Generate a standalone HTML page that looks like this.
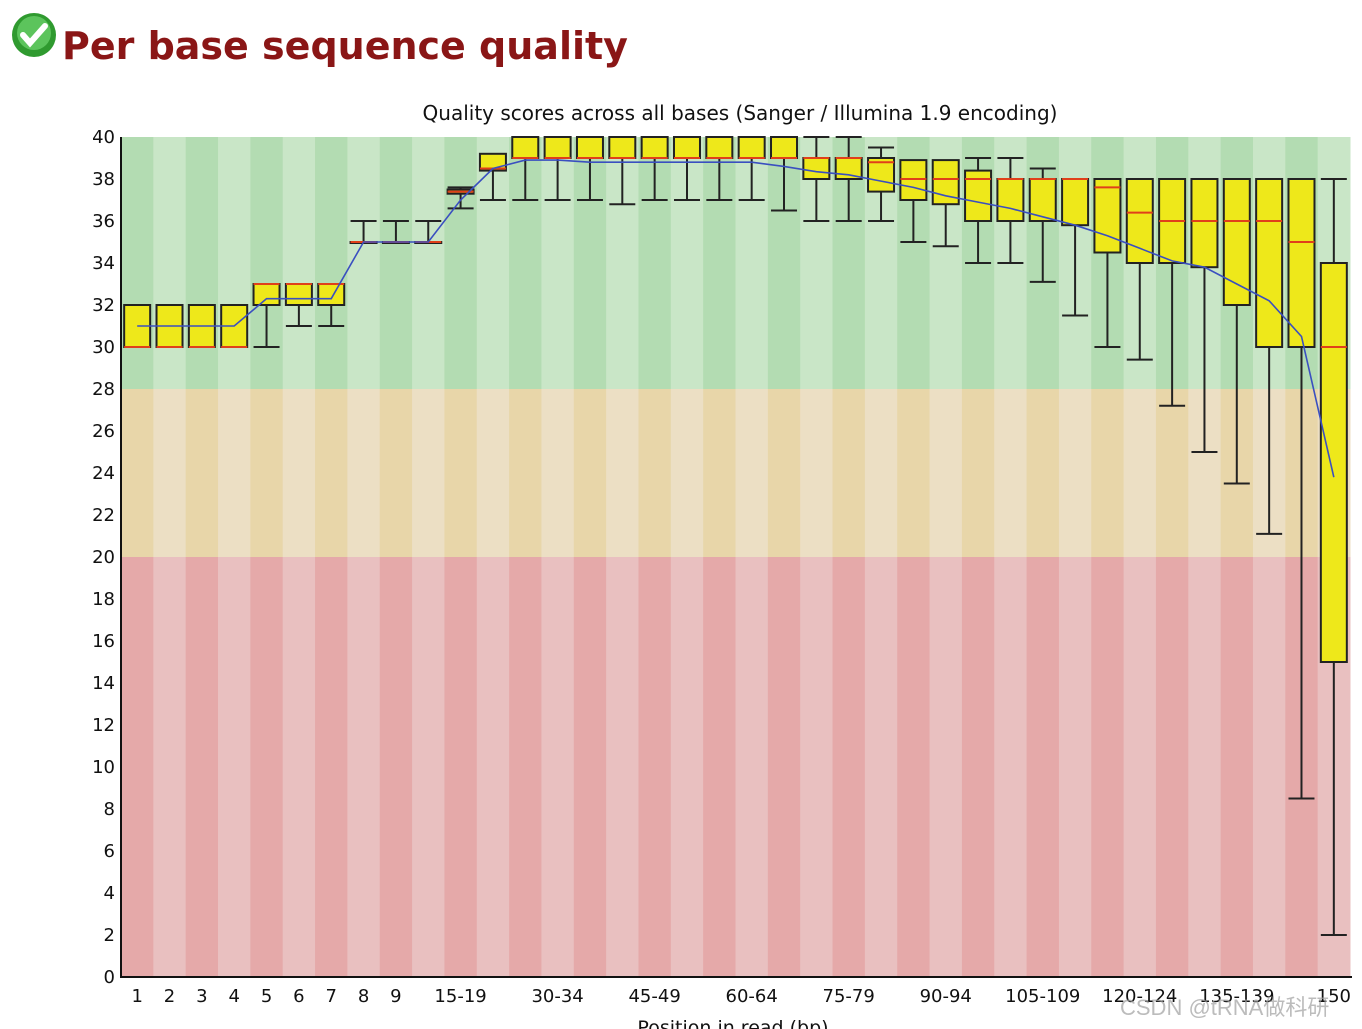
<!DOCTYPE html>
<html><head><meta charset="utf-8"><style>
body{margin:0;background:#fff;width:1362px;height:1029px;overflow:hidden;font-family:"Liberation Sans","DejaVu Sans",sans-serif;}
#title{position:absolute;left:62px;top:24px;font:bold 38px "DejaVu Sans","Liberation Sans",sans-serif;color:#8a1616;}
#icon{position:absolute;left:11px;top:12px}
#wm{position:absolute;left:1120px;top:990px;font:22px "Liberation Sans","Noto Sans CJK SC",sans-serif;color:rgba(160,160,160,0.7)}
</style></head><body>
<svg id="icon" width="48" height="48" viewBox="0 0 48 48"><circle cx="23" cy="23" r="22" fill="#2f9a2f"/><circle cx="23" cy="21" r="17" fill="#5cc45c"/><path d="M12 23 l7 8 l15 -17" stroke="#fff" stroke-width="6" fill="none" stroke-linecap="round"/></svg>
<div id="title">Per base sequence quality</div>
<svg id="chart" width="1362" height="1029" style="position:absolute;left:0;top:0"></svg>
<div id="wm">CSDN @tRNA做科研</div>
<script>
const categories=["1","2","3","4","5","6","7","8","9","10-14","15-19","20-24","25-29","30-34","35-39","40-44","45-49","50-54","55-59","60-64","65-69","70-74","75-79","80-84","85-89","90-94","95-99","100-104","105-109","110-114","115-119","120-124","125-129","130-134","135-139","140-144","145-149","150"];
const lowWhisker=[30,30,30,30,30,31,31,35,35,35,36.6,37,37,37,37,36.8,37,37,37,37,36.5,36,36,36,35,34.8,34,34,33.1,31.5,30,29.4,27.2,25,23.5,21.1,8.5,2];
const q1=[30,30,30,30,32,32,32,35,35,35,37.3,38.4,39,39,39,39,39,39,39,39,39,38,38,37.4,37,36.8,36,36,36,35.8,34.5,34,34,33.8,32,30,30,15];
const median=[30,30,30,30,33,33,33,35,35,35,37.4,38.5,39,39,39,39,39,39,39,39,39,39,39,38.8,38,38,38,38,38,38,37.6,36.4,36,36,36,36,35,30];
const q3=[32,32,32,32,33,33,33,35,35,35,37.5,39.2,40,40,40,40,40,40,40,40,40,39,39,39,38.9,38.9,38.4,38,38,38,38,38,38,38,38,38,38,34];
const highWhisker=[32,32,32,32,33,33,33,36,36,36,37.6,39.2,40,40,40,40,40,40,40,40,40,40,40,39.5,38.9,38.9,39,39,38.5,38,38,38,38,38,38,38,38,38];
const means=[31,31,31,31,32.3,32.3,32.3,35,35,35,37,38.5,38.9,38.9,38.8,38.8,38.8,38.8,38.8,38.8,38.6,38.35,38.2,37.9,37.6,37.2,36.9,36.6,36.2,35.8,35.3,34.7,34.1,33.8,33,32.2,30.5,23.8];
const yTicks=[0,2,4,6,8,10,12,14,16,18,20,22,24,26,28,30,32,34,36,38,40];
const xLabelIdx=[0,1,2,3,4,5,6,7,8,10,13,16,19,22,25,28,31,34,37];

const X0=121,X1=1350,Y0=977,Y1=137;
const n=categories.length, cw=(X1-X0)/n;
const y=v=>Y0-(v/40)*(Y0-Y1);
const xc=i=>X0+cw*(i+0.5);
const svg=document.getElementById('chart');
const NS='http://www.w3.org/2000/svg';
function mk(tag,attrs,parent){const e=document.createElementNS(NS,tag);for(const k in attrs)e.setAttribute(k,attrs[k]);(parent||svg).appendChild(e);return e;}

const bands=[[28,40,'#b3dcb2','#c9e6c7'],[20,28,'#e8d6a9','#ecdfc4'],[0,20,'#e5a9a9','#e9c0c0']];
const bg=mk('g',{});


for(const b of bands){for(let i=0;i<n;i++){
  const r=mk('rect',{x:X0+cw*i,y:y(b[1]),width:cw+0.5,height:y(b[0])-y(b[1]),fill:i%2==0?b[2]:b[3]},bg);
  
  
}}

const bw=26;
for(let i=0;i<n;i++){
  const g=mk('g',{});
  
  
  const cx=xc(i);
  mk('line',{x1:cx,x2:cx,y1:y(highWhisker[i]),y2:y(q3[i]),stroke:'#222','stroke-width':2},g);
  mk('line',{x1:cx,x2:cx,y1:y(q1[i]),y2:y(lowWhisker[i]),stroke:'#222','stroke-width':2},g);
  if(highWhisker[i]>q3[i]) mk('line',{x1:cx-bw/2,x2:cx+bw/2,y1:y(highWhisker[i]),y2:y(highWhisker[i]),stroke:'#222','stroke-width':2},g);
  if(lowWhisker[i]<q1[i]) mk('line',{x1:cx-bw/2,x2:cx+bw/2,y1:y(lowWhisker[i]),y2:y(lowWhisker[i]),stroke:'#222','stroke-width':2},g);
  mk('rect',{x:cx-bw/2,y:y(q3[i]),width:bw,height:Math.max(1,y(q1[i])-y(q3[i])),fill:'#eee81a',stroke:'#222','stroke-width':2},g);
  mk('line',{x1:cx-bw/2,x2:cx+bw/2,y1:y(median[i]),y2:y(median[i]),stroke:'#e0401a','stroke-width':2},g);
}
const ml=mk('polyline',{points:means.map((m,i)=>xc(i)+','+y(m)).join(' '),fill:'none',stroke:'#3a4fc0','stroke-width':1.6});



const ax=mk('path',{d:`M${X0} ${Y1} V${Y0} H${X1+2}`,stroke:'#111','stroke-width':2,fill:'none'});


for(const t of yTicks){
  const tx=mk('text',{x:115,y:y(t)+6,'text-anchor':'end','font-size':18,fill:'#111','font-family':'DejaVu Sans, Liberation Sans, sans-serif'});
  tx.textContent=t;
  
  
}
for(const i of xLabelIdx){
  const tx=mk('text',{x:xc(i),y:1002,'text-anchor':'middle','font-size':18,fill:'#111','font-family':'DejaVu Sans, Liberation Sans, sans-serif'});
  tx.textContent=categories[i];
  
  
}
const ct=mk('text',{x:740,y:120,'text-anchor':'middle','font-size':20,fill:'#111','font-family':'DejaVu Sans, Liberation Sans, sans-serif'});
ct.textContent='Quality scores across all bases (Sanger / Illumina 1.9 encoding)';


const xt=mk('text',{x:733,y:1034,'text-anchor':'middle','font-size':19,fill:'#111','font-family':'DejaVu Sans, Liberation Sans, sans-serif'});
xt.textContent='Position in read (bp)';


</script>
</body></html>
